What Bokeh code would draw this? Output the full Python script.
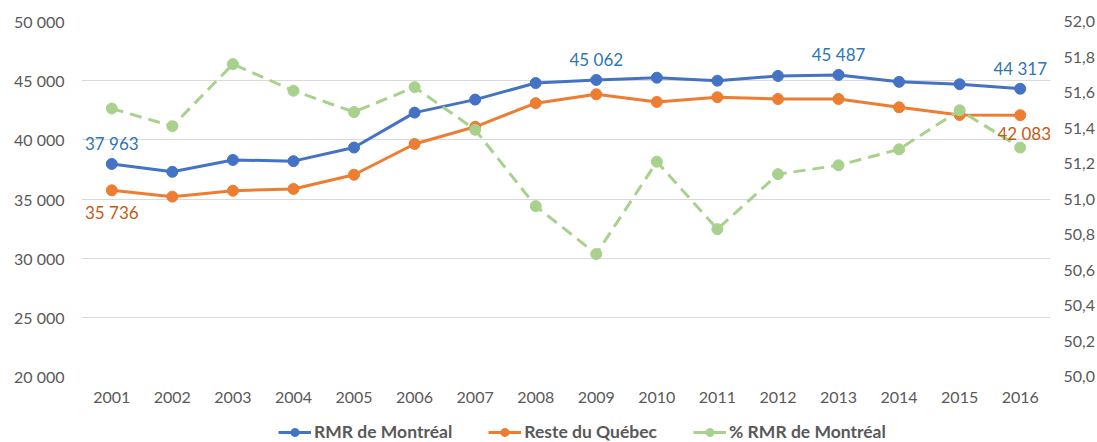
from bokeh.plotting import figure
from bokeh.layouts import column
from bokeh.models import (FactorRange, Range1d, LinearAxis, FixedTicker, LabelSet,
                          CustomJSTickFormatter, ColumnDataSource, Legend, LegendItem)
from bokeh.embed import file_html
from bokeh.resources import INLINE
from bokeh.core.properties import value

years = ["2001", "2002", "2003", "2004", "2005", "2006", "2007", "2008",
         "2009", "2010", "2011", "2012", "2013", "2014", "2015", "2016"]
montreal = [37963, 37300, 38300, 38200, 39350, 42300, 43400, 44800,
            45062, 45250, 45000, 45400, 45487, 44900, 44700, 44317]
reste = [35736, 35200, 35700, 35850, 37050, 39650, 41100, 43100,
         43850, 43200, 43600, 43450, 43450, 42750, 42100, 42083]
pct = [51.51, 51.41, 51.76, 51.61, 51.49, 51.63, 51.39, 50.96,
       50.69, 51.21, 50.83, 51.14, 51.19, 51.28, 51.50, 51.29]
left_ticks = [20000, 25000, 30000, 35000, 40000, 45000, 50000]
right_ticks = [50.0, 50.2, 50.4, 50.6, 50.8, 51.0, 51.2, 51.4, 51.6, 51.8, 52.0]
names = ["RMR de Montréal", "Reste du Québec", "% RMR de Montréal"]
blue_label_idx = [0, 8, 12, 15]
orange_label_idx = [0, 15]

FONT = "Lato"
GREY = "#595959"
BLUE = "#4472C4"
ORANGE = "#ED7D31"
GREEN = "#A9D18E"
TS = "16px"
DASH = "12 7"

p = figure(x_range=FactorRange(*years), y_range=Range1d(20000, 50000),
           width=1097, height=418,
           output_backend="svg", toolbar_location=None,
           min_border_left=81, min_border_right=45, min_border_top=21,
           min_border_bottom=42)
p.outline_line_color = None
p.background_fill_color = "white"
p.xgrid.grid_line_color = None
p.ygrid.grid_line_color = "#D9D9D9"
p.ygrid.grid_line_width = 1
p.extra_y_ranges = {"pct": Range1d(50.0, 52.0)}

fmt_space = CustomJSTickFormatter(code="""
return Math.round(tick).toString().replace(/\\B(?=(\\d{3})+(?!\\d))/g, ' ');
""")
fmt_comma = CustomJSTickFormatter(code="return tick.toFixed(1).replace('.', ',');")

ya = p.yaxis[0]
ya.ticker = FixedTicker(ticks=left_ticks)
ya.formatter = fmt_space
ya.axis_line_color = None
ya.major_tick_line_color = None
ya.minor_tick_line_color = None
ya.major_tick_out = 0
ya.major_label_standoff = 17
ya.major_label_text_font = FONT
ya.major_label_text_font_size = TS
ya.major_label_text_color = GREY

ra = LinearAxis(y_range_name="pct", ticker=FixedTicker(ticks=right_ticks),
                formatter=fmt_comma)
ra.axis_line_color = None
ra.major_tick_line_color = None
ra.minor_tick_line_color = None
ra.major_tick_out = 0
ra.major_label_standoff = 13
ra.major_label_text_font = FONT
ra.major_label_text_font_size = TS
ra.major_label_text_color = GREY
p.add_layout(ra, "right")

xa = p.xaxis[0]
xa.axis_line_color = None
xa.major_tick_line_color = None
xa.minor_tick_line_color = None
xa.major_tick_out = 0
xa.major_label_standoff = 15
xa.major_label_text_font = FONT
xa.major_label_text_font_size = TS
xa.major_label_text_color = GREY

src = ColumnDataSource(dict(x=years, m=montreal, r=reste, g=pct))

p.line("x", "m", source=src, line_color=BLUE, line_width=3)
p.scatter("x", "m", source=src, size=11, fill_color=BLUE, line_color=BLUE)
p.line("x", "r", source=src, line_color=ORANGE, line_width=3)
p.scatter("x", "r", source=src, size=11, fill_color=ORANGE, line_color=ORANGE)
p.line("x", "g", source=src, line_color=GREEN, line_width=3,
       line_dash=DASH, y_range_name="pct")
p.scatter("x", "g", source=src, size=11, fill_color=GREEN, line_color=GREEN,
          y_range_name="pct")

def fmt(v):
    return f"{v:,}".replace(",", " ")

bsrc = ColumnDataSource(dict(
    x=[years[i] for i in blue_label_idx],
    y=[montreal[i] for i in blue_label_idx],
    t=[fmt(montreal[i]) for i in blue_label_idx],
))
p.add_layout(LabelSet(x="x", y="y", text="t", source=bsrc, text_align="center",
                      text_baseline="middle", y_offset=20, text_font=value(FONT),
                      text_font_size="17px", text_color="#2E75B6"))

osrc = ColumnDataSource(dict(
    x=[years[i] for i in orange_label_idx],
    y=[reste[i] for i in orange_label_idx],
    t=[fmt(reste[i]) for i in orange_label_idx],
    xo=[0, 4],
    yo=[-22, -18],
))
p.add_layout(LabelSet(x="x", y="y", text="t", source=osrc, text_align="center",
                      text_baseline="middle", x_offset="xo", y_offset="yo",
                      text_font=value(FONT), text_font_size="17px", text_color="#C55A11"))

# Legend strip below the chart (same series, drawn outside its visible range)
lg = figure(width=1097, height=24, x_range=FactorRange(*years), y_range=Range1d(0, 1),
            output_backend="svg", toolbar_location=None,
            x_axis_type=None, y_axis_type=None,
            min_border_left=81, min_border_right=45, min_border_top=0, min_border_bottom=0)
lg.outline_line_color = None
lg.grid.grid_line_color = None
r1 = [lg.line("x", "m", source=src, line_color=BLUE, line_width=3),
      lg.scatter("x", "m", source=src, size=11, fill_color=BLUE, line_color=BLUE)]
r2 = [lg.line("x", "r", source=src, line_color=ORANGE, line_width=3),
      lg.scatter("x", "r", source=src, size=11, fill_color=ORANGE, line_color=ORANGE)]
r3 = [lg.line("x", "g", source=src, line_color=GREEN, line_width=3),
      lg.scatter("x", "g", source=src, size=11, fill_color=GREEN, line_color=GREEN)]

legend = Legend(items=[
    LegendItem(label=names[0], renderers=r1),
    LegendItem(label=names[1], renderers=r2),
    LegendItem(label=names[2], renderers=r3),
], orientation="horizontal", location=(197, 0))
legend.label_text_font = FONT
legend.label_text_font_size = "17.5px"
legend.label_text_font_style = "bold"
legend.label_text_color = GREY
legend.glyph_width = 33
legend.glyph_height = 20
legend.label_height = 20
legend.label_standoff = 3
legend.spacing = 36
legend.border_line_color = None
legend.background_fill_alpha = 0
legend.padding = 0
legend.margin = 0
lg.add_layout(legend)

layout = column(p, lg, spacing=0)
open("out.html", "w").write(file_html(layout, INLINE))
